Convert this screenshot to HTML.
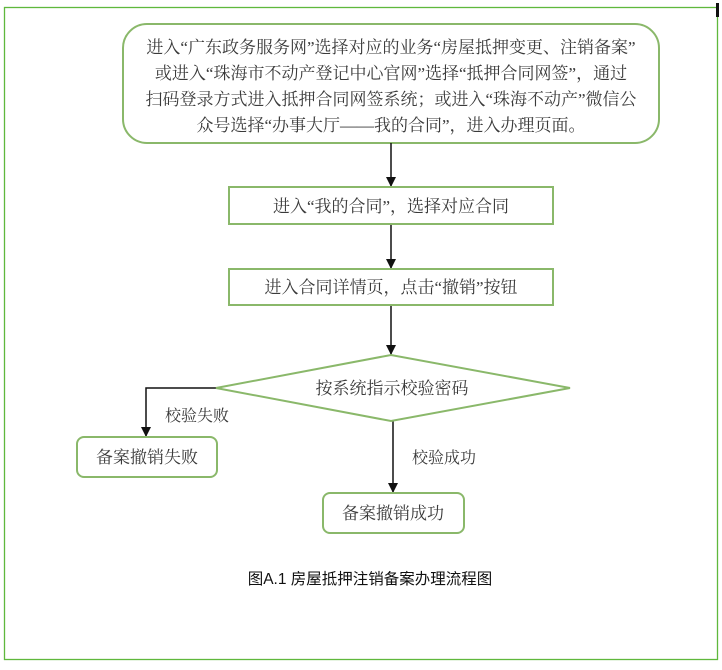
<!DOCTYPE html>
<html><head><meta charset="utf-8"><style>
body{margin:0;background:#fff;}
svg text{font-family:"Liberation Serif","Noto Serif CJK SC",serif;fill:#3a3a3a;}
</style></head><body>
<svg width="722" height="665" viewBox="0 0 722 665" xmlns="http://www.w3.org/2000/svg">
<defs><marker id="a" markerWidth="10" markerHeight="10" refX="10" refY="5" orient="auto" markerUnits="userSpaceOnUse"><path d="M0,0 L10,5 L0,10 Z" fill="#111"/></marker></defs>
<rect x="4.5" y="7.5" width="713" height="652" fill="none" stroke="#5fb83c" stroke-width="1.3"/>
<rect x="716" y="3" width="3" height="14" fill="#111"/>
<rect x="123" y="24" width="536" height="119" rx="24" fill="#fff" stroke="#8ab86a" stroke-width="2"/>
<g font-size="17" text-anchor="middle">
<text x="391" y="53">进入“广东政务服务网”选择对应的业务“房屋抵押变更、注销备案”</text>
<text x="391" y="79">或进入“珠海市不动产登记中心官网”选择“抵押合同网签”，通过</text>
<text x="391" y="105">扫码登录方式进入抵押合同网签系统；或进入“珠海不动产”微信公</text>
<text x="391" y="131">众号选择“办事大厅——我的合同”，进入办理页面。</text>
</g>
<g stroke="#111" stroke-width="1.5" fill="none">
<line x1="391" y1="143" x2="391" y2="187" marker-end="url(#a)"/>
<line x1="391" y1="224" x2="391" y2="269" marker-end="url(#a)"/>
<line x1="391" y1="305" x2="391" y2="355" marker-end="url(#a)"/>
<polyline points="216,388 146,388 146,437" marker-end="url(#a)"/>
<line x1="393" y1="421" x2="393" y2="493" marker-end="url(#a)"/>
</g>
<rect x="229" y="187" width="324" height="37" fill="#fff" stroke="#8ab86a" stroke-width="2"/>
<text x="391" y="212" font-size="17" text-anchor="middle">进入“我的合同”，选择对应合同</text>
<rect x="229" y="269" width="324" height="36" fill="#fff" stroke="#8ab86a" stroke-width="2"/>
<text x="391" y="293" font-size="17" text-anchor="middle">进入合同详情页，点击“撤销”按钮</text>
<polygon points="216,388 391,355 570,388 391,421" fill="#fff" stroke="#8ab86a" stroke-width="2"/>
<text x="392" y="394" font-size="17" text-anchor="middle">按系统指示校验密码</text>
<text x="165" y="421" font-size="16">校验失败</text>
<text x="412" y="463" font-size="16">校验成功</text>
<rect x="77" y="437" width="140" height="40" rx="7" fill="#fff" stroke="#8ab86a" stroke-width="2"/>
<text x="147" y="463" font-size="17" text-anchor="middle">备案撤销失败</text>
<rect x="323" y="493" width="141" height="40" rx="7" fill="#fff" stroke="#8ab86a" stroke-width="2"/>
<text x="393" y="519" font-size="17" text-anchor="middle">备案撤销成功</text>
<text x="370" y="584" font-size="15.5" text-anchor="middle" style="font-family:'Liberation Sans','Noto Sans CJK SC',sans-serif;fill:#111">图A.1 房屋抵押注销备案办理流程图</text>
</svg>
</body></html>
